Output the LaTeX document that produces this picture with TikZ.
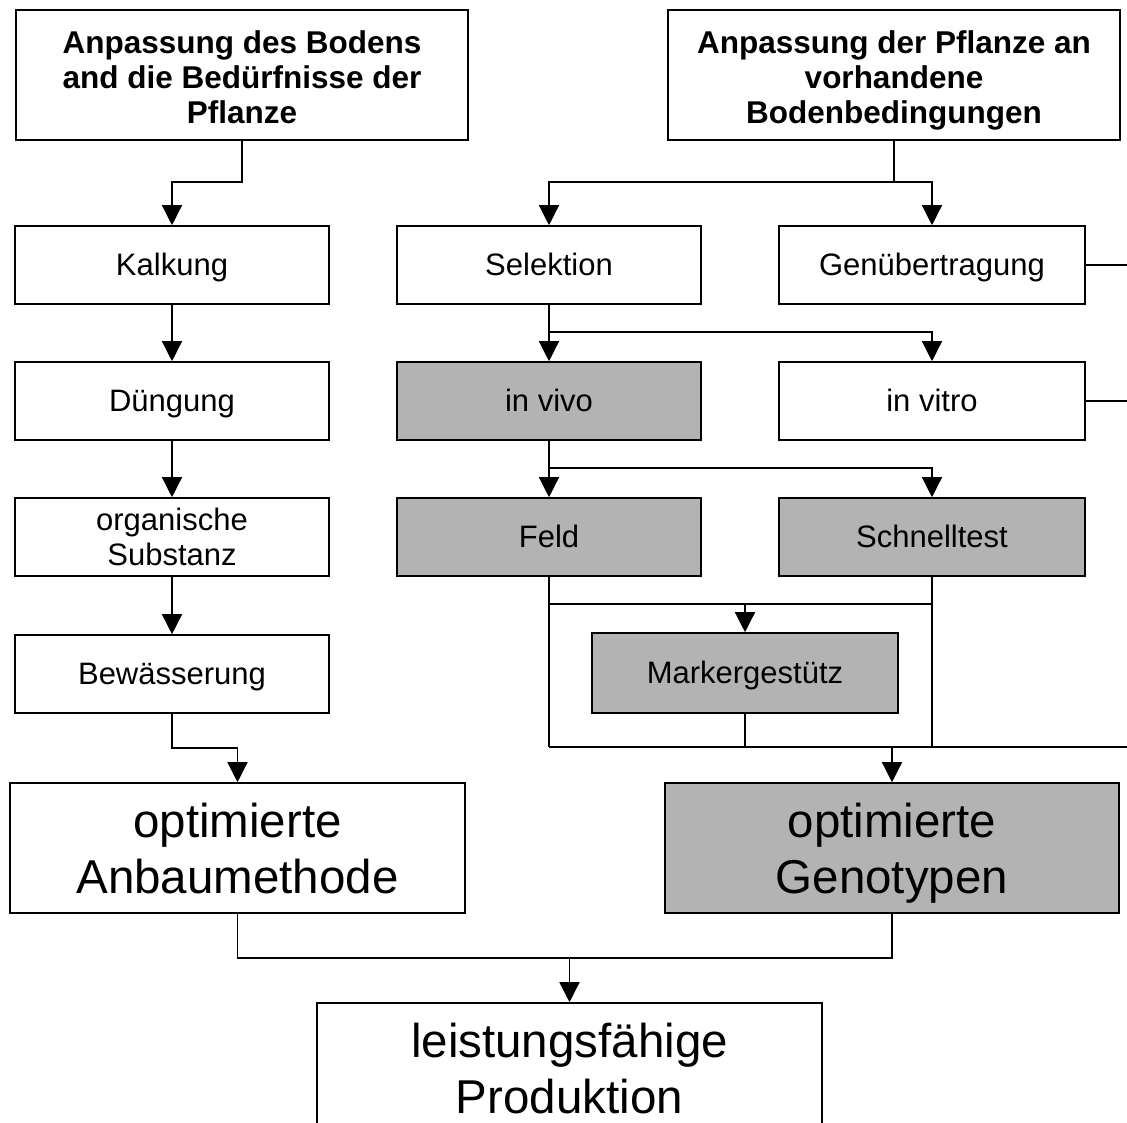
\documentclass[tikz,border=0pt]{standalone}
\usepackage{fontspec}
\setmainfont{Liberation Sans}
\usepackage{tikz}
\usetikzlibrary{calc, positioning, arrows.meta}
\definecolor{Kgrau}{RGB}{179,179,179}

\begin{document}
\begin{tikzpicture}[x=1pt, y=-1pt,
  kst/.style={rectangle, draw=black, line width=1.6pt, fill=white,
    minimum width=306pt, minimum height=78pt, inner sep=0pt,
    text height=28pt, text depth=6.6pt,
    align=center, font=\fontsize{31}{35}\selectfont},
  kgr/.style={kst, fill=Kgrau},
  tit/.style={rectangle, draw=black, line width=1.6pt, fill=white,
    minimum width=452pt, minimum height=130pt, inner sep=0pt,
    text height=98.5pt, text depth=2pt,
    align=center, font=\fontsize{31.5}{35}\selectfont\bfseries},
  gro/.style={rectangle, draw=black, line width=1.6pt, fill=white,
    minimum width=454pt, minimum height=130pt, inner sep=0pt,
    text height=99pt, text depth=9pt,
    align=center, font=\fontsize{47.5}{56}\selectfont},
  ln/.style={line width=1.4pt},
  fa/.style={-{Triangle[length=20pt, width=20pt]}, line width=1.4pt}
]
\useasboundingbox (0,0) rectangle (1127,1122);
\clip (0,0) rectangle (1127,1122);

%% ── Ziele (oben) ─────────────────────────────────────────────────────
\node[tit] (BO) at (242, 75) {Anpassung des Bodens\\and die Bedürfnisse der\\Pflanze};
\node[tit] (PF) at (894, 75) {Anpassung der Pflanze an\\vorhandene\\Bodenbedingungen};

%% ── Anbau (links) ────────────────────────────────────────────────────
\node[kst, minimum width=314pt] (KA) at (172, 265) {Kalkung};
\node[kst, minimum width=314pt] (DU) at (172, 401) {Düngung};
\node[kst, minimum width=314pt, text height=63pt] (OS) at (172, 537) {organische\\Substanz};
\node[kst, minimum width=314pt] (BW) at (172, 674) {Bewässerung};
\node[gro, minimum width=455pt] (AM) at (237.5, 848) {optimierte\\Anbaumethode};

\draw[fa] (BO.south) -- ++(0,41) -| (KA.north);
\draw[fa] (KA) -- (DU);
\draw[fa] (DU) -- (OS);
\draw[fa] (OS) -- (BW);
\draw[fa] (BW.south) -- ++(0,34) -| (AM.north);

%% ── Züchtung (rechts) ────────────────────────────────────────────────
\node[kst, minimum width=304pt] (SE) at (549, 265) {Selektion};
\node[kst] (GU) at (932, 265) {Genübertragung};
\node[kgr, minimum width=304pt] (IV) at (549, 401) {in vivo};
\node[kst] (IT) at (932, 401) {in vitro};
\node[kgr, minimum width=304pt] (FE) at (549, 537) {Feld};
\node[kgr] (ST) at (932, 537) {Schnelltest};
\node[kgr, minimum height=80pt] (MG) at (745, 673) {Markergestütz};
\node[gro, fill=Kgrau] (GT) at (892, 848) {optimierte\\Genotypen};

\coordinate (pf1) at ([yshift=-41pt]PF.south);
\coordinate (se1) at ([yshift=-27pt]SE.south);
\coordinate (iv1) at ([yshift=-27pt]IV.south);
\coordinate (fe1) at ([yshift=-27pt]FE.south);
\coordinate (unt) at (0, 747);
\coordinate (rand) at (1127, 0);

\draw[ln] (PF.south) -- (pf1);
\draw[fa] (pf1) -| (SE.north);
\draw[fa] (pf1) -| (GU.north);

\draw[fa] (SE) -- (IV);
\draw[fa] (se1) -| (IT.north);
\draw[fa] (IV) -- (FE);
\draw[fa] (iv1) -| (ST.north);

\draw[ln] (FE.south) -- (FE.south |- unt);
\draw[ln] (ST.south) -- (ST.south |- unt);
\draw[ln] (fe1) -- (fe1 -| ST.south);
\draw[fa] (MG.north |- fe1) -- (MG.north);
\draw[ln] (MG.south) -- (MG.south |- unt);
\draw[ln] (FE.south |- unt) -- (MG.south |- unt);
\draw[line width=2.8pt] (MG.south |- unt) -- (rand |- unt);
\draw[fa] (GT.north |- unt) -- (GT.north);

\draw[ln] (GU.east) -- (GU.east -| rand);
\draw[ln] (IT.east) -- (IT.east -| rand);

%% ── Ergebnis (unten) ─────────────────────────────────────────────────
\node[gro, minimum width=505pt] (LP) at (569.5, 1068) {leistungsfähige\\Produktion};

\coordinate (erg) at (0, 958);
\draw[ln] (AM.south) -- (AM.south |- erg) -- (GT.south |- erg) -- (GT.south);
\draw[fa] (LP.north |- erg) -- (LP.north);

\end{tikzpicture}
\end{document}
